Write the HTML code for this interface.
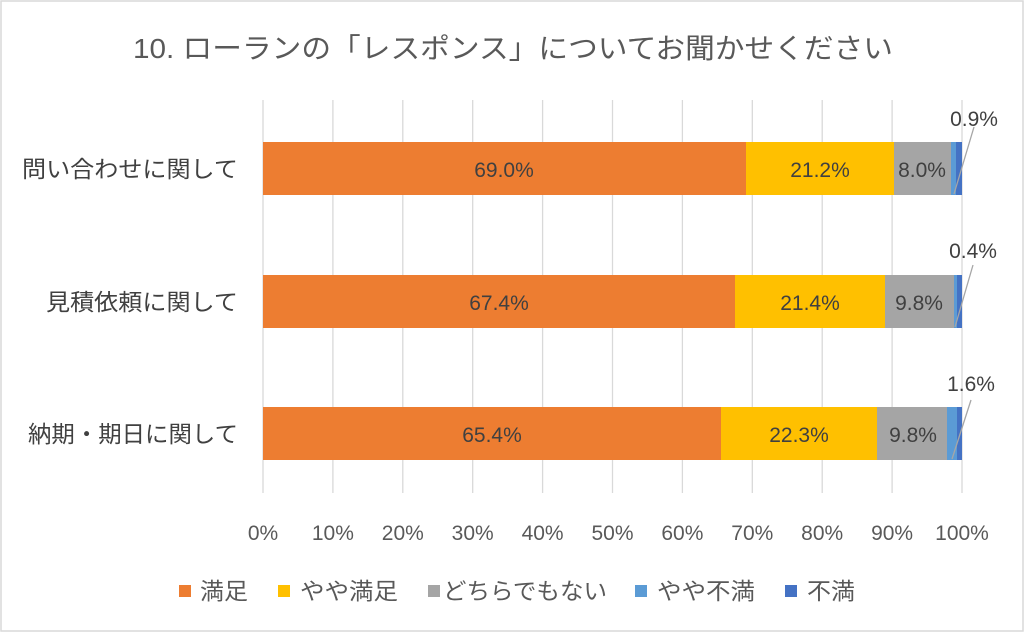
<!DOCTYPE html>
<html><head><meta charset="utf-8"><style>
body{margin:0;background:#fff}
svg{display:block;font-family:"Liberation Sans","Noto Sans CJK JP",sans-serif}
</style></head><body>
<svg width="1024" height="632" viewBox="0 0 1024 632">
<rect x="1" y="1" width="1022" height="630" fill="#fff" stroke="#d9d9d9" stroke-width="1.5"/>
<text x="133" y="58" font-size="28" fill="#595959" textLength="760" lengthAdjust="spacingAndGlyphs">10. ローランの「レスポンス」についてお聞かせください</text>
<g stroke="#d9d9d9" stroke-width="1.3">
<line x1="263" y1="100" x2="263" y2="493"/><line x1="332.9" y1="100" x2="332.9" y2="493"/><line x1="402.8" y1="100" x2="402.8" y2="493"/><line x1="472.7" y1="100" x2="472.7" y2="493"/><line x1="542.6" y1="100" x2="542.6" y2="493"/><line x1="612.5" y1="100" x2="612.5" y2="493"/><line x1="682.4" y1="100" x2="682.4" y2="493"/><line x1="752.3" y1="100" x2="752.3" y2="493"/><line x1="822.2" y1="100" x2="822.2" y2="493"/><line x1="892.1" y1="100" x2="892.1" y2="493"/><line x1="962" y1="100" x2="962" y2="493"/>
</g>
<rect x="263" y="142" width="483" height="53" fill="#ed7d31"/>
<rect x="746" y="142" width="148" height="53" fill="#ffc000"/>
<rect x="894" y="142" width="57" height="53" fill="#a5a5a5"/>
<rect x="951" y="142" width="5" height="53" fill="#5b9bd5"/>
<rect x="956" y="142" width="6" height="53" fill="#4472c4"/>
<rect x="263" y="275" width="472" height="53" fill="#ed7d31"/>
<rect x="735" y="275" width="150" height="53" fill="#ffc000"/>
<rect x="885" y="275" width="69" height="53" fill="#a5a5a5"/>
<rect x="954" y="275" width="3" height="53" fill="#5b9bd5"/>
<rect x="957" y="275" width="5" height="53" fill="#4472c4"/>
<rect x="263" y="407" width="458" height="53" fill="#ed7d31"/>
<rect x="721" y="407" width="156" height="53" fill="#ffc000"/>
<rect x="877" y="407" width="70" height="53" fill="#a5a5a5"/>
<rect x="947" y="407" width="10" height="53" fill="#5b9bd5"/>
<rect x="957" y="407" width="5" height="53" fill="#4472c4"/>
<g stroke="#a6a6a6" stroke-width="1.3">
<line x1="954" y1="194" x2="974" y2="127"/>
<line x1="955" y1="327" x2="973" y2="265"/>
<line x1="952" y1="459" x2="971" y2="400"/>
</g>
<g font-size="21" fill="#404040" text-anchor="middle">
<text x="504" y="177">69.0%</text><text x="820" y="177">21.2%</text><text x="922" y="177">8.0%</text>
<text x="499" y="310">67.4%</text><text x="810" y="310">21.4%</text><text x="919" y="310">9.8%</text>
<text x="492" y="442">65.4%</text><text x="799" y="442">22.3%</text><text x="913" y="442">9.8%</text>
<text x="974" y="126">0.9%</text><text x="973" y="258">0.4%</text><text x="971" y="391">1.6%</text>
</g>
<g font-size="23" fill="#404040">
<text x="22" y="177" textLength="216" lengthAdjust="spacingAndGlyphs">問い合わせに関して</text>
<text x="46" y="310" textLength="192" lengthAdjust="spacingAndGlyphs">見積依頼に関して</text>
<text x="28" y="442" textLength="210" lengthAdjust="spacingAndGlyphs">納期・期日に関して</text>
</g>
<g font-size="21" fill="#595959" text-anchor="middle">
<text x="263" y="540">0%</text><text x="332.9" y="540">10%</text><text x="402.8" y="540">20%</text><text x="472.7" y="540">30%</text><text x="542.6" y="540">40%</text><text x="612.5" y="540">50%</text><text x="682.4" y="540">60%</text><text x="752.3" y="540">70%</text><text x="822.2" y="540">80%</text><text x="892.1" y="540">90%</text><text x="962" y="540">100%</text>
</g>
<g font-size="23" fill="#595959">
<rect x="179" y="585" width="12" height="12" fill="#ed7d31"/><text x="200" y="599" textLength="48" lengthAdjust="spacingAndGlyphs">満足</text>
<rect x="278" y="585" width="12" height="12" fill="#ffc000"/><text x="300" y="599" textLength="98" lengthAdjust="spacingAndGlyphs">やや満足</text>
<rect x="428" y="585" width="12" height="12" fill="#a5a5a5"/><text x="443" y="599" textLength="164" lengthAdjust="spacingAndGlyphs">どちらでもない</text>
<rect x="635" y="585" width="12" height="12" fill="#5b9bd5"/><text x="657" y="599" textLength="98" lengthAdjust="spacingAndGlyphs">やや不満</text>
<rect x="785" y="585" width="12" height="12" fill="#4472c4"/><text x="807" y="599" textLength="48" lengthAdjust="spacingAndGlyphs">不満</text>
</g>
</svg>
</body></html>
